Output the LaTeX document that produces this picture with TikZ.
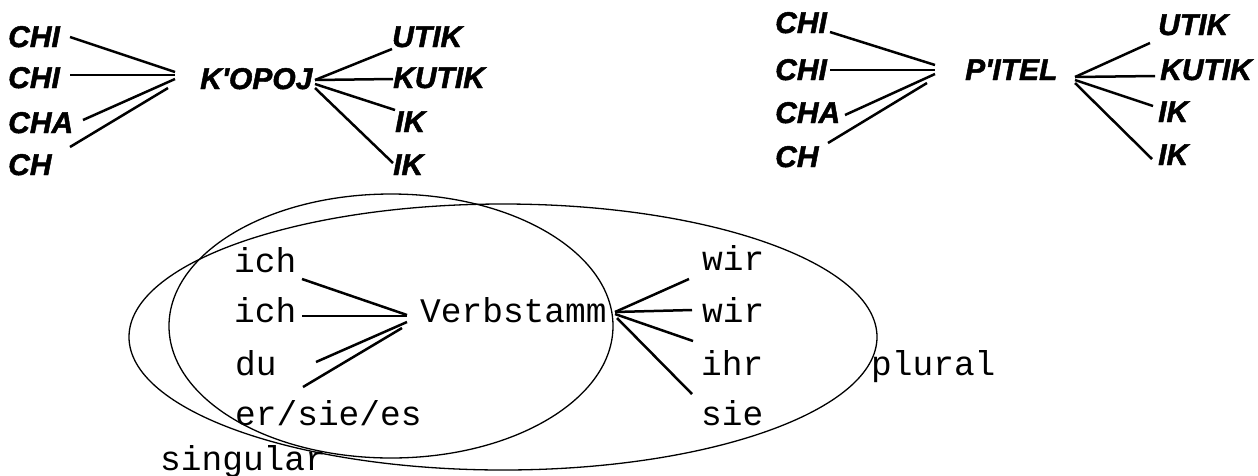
\documentclass[tikz,border=0pt]{standalone}
\usepackage{fontspec}
\newfontfamily\mkfont{Liberation Sans}[UprightFont={* Bold Italic}, FakeBold=1.6]
\newfontfamily\mnfont{Liberation Mono}
\tikzset{
  marker/.style={font=\mkfont\fontsize{30pt}{30pt}\selectfont, inner sep=0pt, anchor=base west},
  mono/.style={font=\mnfont\fontsize{34.5pt}{35pt}\selectfont, inner sep=0pt, anchor=base west},
  conn/.style={line width=2.5pt},
  ring/.style={line width=1.3pt}
}
\begin{document}
\begin{tikzpicture}[x=1pt,y=-1pt]
\path[use as bounding box] (0,0) rectangle (1258,475);

% ---------- top left group ----------
\node[marker] (tlc1) at (8,47) {CHI};
\node[marker] (tlc2) at (8,88) {CHI};
\node[marker] (tlc3) at (8,133) {CHA};
\node[marker] (tlc4) at (8,175) {CH};
\node[marker] (tlk) at (200,89) {K'OPOJ};
\node[marker] (tlu1) at (392,47) {UTIK};
\node[marker] (tlu2) at (393,88) {KUTIK};
\node[marker] (tlu3) at (395,132) {IK};
\node[marker] (tlu4) at (393,175) {IK};

\draw[conn] ([shift={(62,-10)}]tlc1.base west) -- ([shift={(-25,-17)}]tlk.base west);
\draw[conn] ([shift={(62,-13)}]tlc2.base west) -- ([shift={(-25,-14)}]tlk.base west);
\draw[conn] ([shift={(75,-13)}]tlc3.base west) -- ([shift={(-25,-10)}]tlk.base west);
\draw[conn] ([shift={(62,-28)}]tlc4.base west) -- ([shift={(-32,-1)}]tlk.base west);
\draw[conn] ([shift={(115,-9)}]tlk.base west) -- ([shift={(0,2)}]tlu1.base west);
\draw[conn] ([shift={(115,-9)}]tlk.base west) -- ([shift={(0,-9)}]tlu2.base west);
\draw[conn] ([shift={(115,-5)}]tlk.base west) -- ([shift={(0,-22)}]tlu3.base west);
\draw[conn] ([shift={(115,-1)}]tlk.base west) -- ([shift={(0,-12)}]tlu4.base west);

% ---------- top right group ----------
\node[marker] (trc1) at (775,33) {CHI};
\node[marker] (trc2) at (775,80) {CHI};
\node[marker] (trc3) at (775,123) {CHA};
\node[marker] (trc4) at (775,167) {CH};
\node[marker] (trp) at (965,80) {P'ITEL};
\node[marker] (tru1) at (1158,35) {UTIK};
\node[marker] (tru2) at (1160,80) {KUTIK};
\node[marker] (tru3) at (1158,122) {IK};
\node[marker] (tru4) at (1158,165) {IK};

\draw[conn] ([shift={(55,-1)}]trc1.base west) -- ([shift={(-30,-15)}]trp.base west);
\draw[conn] ([shift={(55,-10)}]trc2.base west) -- ([shift={(-30,-10)}]trp.base west);
\draw[conn] ([shift={(70,-8)}]trc3.base west) -- ([shift={(-30,-6)}]trp.base west);
\draw[conn] ([shift={(53,-24)}]trc4.base west) -- ([shift={(-38,3)}]trp.base west);
\draw[conn] ([shift={(110,-3)}]trp.base west) -- ([shift={(-8,8)}]tru1.base west);
\draw[conn] ([shift={(110,-3)}]trp.base west) -- ([shift={(-5,-4)}]tru2.base west);
\draw[conn] ([shift={(110,0)}]trp.base west) -- ([shift={(-5,-16)}]tru3.base west);
\draw[conn] ([shift={(110,3)}]trp.base west) -- ([shift={(-6,-6)}]tru4.base west);

% ---------- bottom: German ----------
\draw[ring] (391,326) ellipse [x radius=222pt, y radius=132pt];
\draw[ring] (503,337) ellipse [x radius=374pt, y radius=133pt];

\node[mono] (bi1) at (234,272) {ich};
\node[mono] (bi2) at (234,322) {ich};
\node[mono] (bdu) at (235,375) {du};
\node[mono] (ber) at (235,425) {er/sie/es};
\node[mono] (bsg) at (160,470) {singular};
\node[mono] (bv) at (420,322) {Verbstamm};
\node[mono] (bw1) at (702,270) {wir};
\node[mono] (bw2) at (702,322) {wir};
\node[mono] (bih) at (701,375) {ihr};
\node[mono] (bsie) at (701,425) {sie};
\node[mono] (bpl) at (871,375) {plural};

\draw[conn] ([shift={(68,7)}]bi1.base west) -- ([shift={(-13,-7)}]bv.base west);
\draw[conn] ([shift={(68,-6)}]bi2.base west) -- ([shift={(-13,-6)}]bv.base west);
\draw[conn] ([shift={(81,-13)}]bdu.base west) -- ([shift={(-13,0)}]bv.base west);
\draw[conn] ([shift={(68,-38)}]ber.base west) -- ([shift={(-18,6)}]bv.base west);
\draw[conn] ([shift={(195,-10)}]bv.base west) -- ([shift={(-13,9)}]bw1.base west);
\draw[conn] ([shift={(195,-10)}]bv.base west) -- ([shift={(-10,-12)}]bw2.base west);
\draw[conn] ([shift={(195,-8)}]bv.base west) -- ([shift={(-8,-34)}]bih.base west);
\draw[conn] ([shift={(197,-4)}]bv.base west) -- ([shift={(-9,-31)}]bsie.base west);
\end{tikzpicture}
\end{document}
